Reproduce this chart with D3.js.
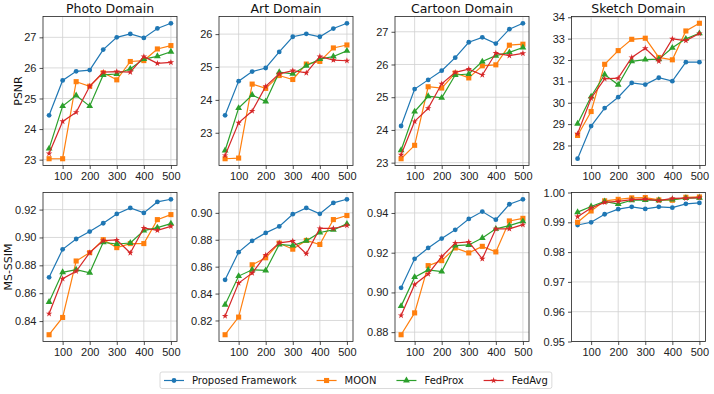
<!DOCTYPE html>
<html>
<head>
<meta charset="utf-8">
<script src="https://cdn.jsdelivr.net/npm/d3@7"></script>
<style>
  body { margin: 0; background: #fff; }
  svg { display: block; font-family: "DejaVu Sans", sans-serif; }
  .grid line { stroke: #d0d0d0; stroke-width: 0.8; }
  .axis path, .axis line { stroke: #222; stroke-width: 0.8; }
  .axis text { fill: #222; font-size: 11px; }
</style>
</head>
<body>
<div id="chart"></div>
<script>
// x values: communication rounds
const rounds = [50, 100, 150, 200, 250, 300, 350, 400, 450, 500];
const methods = ['Proposed Framework', 'MOON', 'FedProx', 'FedAvg'];
const colors = ['#1f77b4', '#ff7f0e', '#2ca02c', '#d62728'];
const xTicks = [100, 200, 300, 400, 500];

// series order follows `methods`
const photoPSNR = [
    [24.45, 25.59, 25.89, 25.93, 26.60, 27.00, 27.11, 26.98, 27.29, 27.46],
    [23.03, 23.03, 25.55, 25.40, 25.84, 25.61, 26.21, 26.24, 26.62, 26.73],
    [23.36, 24.75, 25.10, 24.75, 25.77, 25.80, 25.97, 26.29, 26.38, 26.53],
    [23.20, 24.25, 24.55, 25.40, 25.86, 25.88, 25.86, 26.37, 26.15, 26.18]
];
const artPSNR = [
    [23.53, 24.57, 24.86, 24.97, 25.46, 25.92, 26.01, 25.92, 26.17, 26.33],
    [22.21, 22.23, 24.48, 24.35, 24.74, 24.62, 25.09, 25.17, 25.58, 25.67],
    [22.46, 23.75, 24.15, 23.95, 24.84, 24.79, 25.04, 25.24, 25.32, 25.49],
    [22.31, 23.30, 23.66, 24.41, 24.79, 24.89, 24.82, 25.32, 25.21, 25.19]
];
const cartoonPSNR = [
    [24.12, 25.25, 25.53, 25.81, 26.21, 26.68, 26.83, 26.64, 27.08, 27.26],
    [23.12, 23.53, 25.32, 25.28, 25.74, 25.59, 25.96, 25.99, 26.59, 26.62],
    [23.38, 24.56, 25.03, 24.98, 25.68, 25.71, 26.09, 26.27, 26.37, 26.52],
    [23.24, 24.26, 24.66, 25.41, 25.76, 25.86, 25.68, 26.35, 26.27, 26.34]
];
const sketchPSNR = [
    [27.38, 28.91, 29.75, 30.26, 30.93, 30.85, 31.17, 31.01, 31.90, 31.90],
    [28.47, 29.59, 31.80, 32.44, 32.97, 33.02, 32.12, 32.01, 33.36, 33.72],
    [29.02, 30.29, 31.32, 30.84, 31.94, 32.02, 32.04, 32.57, 32.99, 33.25],
    [28.55, 30.21, 31.12, 31.15, 32.12, 32.55, 31.94, 32.99, 32.91, 33.24]
];
const photoSSIM = [
    [0.8714, 0.8915, 0.8989, 0.9042, 0.9102, 0.9169, 0.9212, 0.9176, 0.9255, 0.9274],
    [0.8302, 0.8426, 0.8831, 0.8891, 0.8984, 0.8927, 0.8956, 0.8956, 0.9128, 0.9164],
    [0.8537, 0.8750, 0.8769, 0.8747, 0.8965, 0.8953, 0.8960, 0.9049, 0.9071, 0.9099],
    [0.8453, 0.8704, 0.8757, 0.8891, 0.8977, 0.8982, 0.8889, 0.9068, 0.9051, 0.9080]
];
const artSSIM = [
    [0.8502, 0.8708, 0.8792, 0.8851, 0.8899, 0.8990, 0.9037, 0.8993, 0.9074, 0.9101],
    [0.8094, 0.8225, 0.8614, 0.8666, 0.8775, 0.8730, 0.8795, 0.8765, 0.8950, 0.8980],
    [0.8317, 0.8530, 0.8577, 0.8572, 0.8765, 0.8757, 0.8792, 0.8854, 0.8874, 0.8918],
    [0.8233, 0.8478, 0.8552, 0.8686, 0.8777, 0.8790, 0.8696, 0.8884, 0.8884, 0.8906]
];
const cartoonSSIM = [
    [0.9023, 0.9169, 0.9224, 0.9271, 0.9315, 0.9370, 0.9407, 0.9366, 0.9444, 0.9469],
    [0.8787, 0.8897, 0.9135, 0.9160, 0.9224, 0.9199, 0.9232, 0.9204, 0.9360, 0.9373],
    [0.8931, 0.9077, 0.9113, 0.9105, 0.9236, 0.9239, 0.9274, 0.9320, 0.9336, 0.9358],
    [0.8884, 0.9040, 0.9093, 0.9180, 0.9249, 0.9254, 0.9169, 0.9320, 0.9320, 0.9341]
];
const sketchSSIM = [
    [0.9891, 0.9900, 0.9927, 0.9944, 0.9952, 0.9945, 0.9952, 0.9949, 0.9962, 0.9965],
    [0.9900, 0.9938, 0.9972, 0.9977, 0.9982, 0.9983, 0.9975, 0.9974, 0.9984, 0.9985],
    [0.9934, 0.9953, 0.9970, 0.9961, 0.9974, 0.9975, 0.9974, 0.9976, 0.9981, 0.9982],
    [0.9919, 0.9948, 0.9967, 0.9970, 0.9976, 0.9978, 0.9973, 0.9980, 0.9981, 0.9983]
];

const psnrTicks = {
    photo: [23, 24, 25, 26, 27],
    art: [23, 24, 25, 26],
    cartoon: [23, 24, 25, 26, 27],
    sketch: [28, 29, 30, 31, 32, 33, 34]
};
const ssimTicks = {
    photo: [0.84, 0.86, 0.88, 0.90, 0.92],
    art: [0.82, 0.84, 0.86, 0.88, 0.90],
    cartoon: [0.88, 0.90, 0.92, 0.94],
    sketch: [0.95, 0.96, 0.97, 0.98, 0.99, 1.00]
};

let width = 714;
let height = 394;
let colLeft = [43, 219, 395, 571.5];
let panelWidth = 134;
let rowTop = [16.5, 192.5];
let panelHeight = 149;

let panels = [
    { row: 0, col: 0, title: 'Photo Domain', ylabel: 'PSNR', series: photoPSNR, ticks: psnrTicks.photo, fmt: d3.format('d') },
    { row: 0, col: 1, title: 'Art Domain', series: artPSNR, ticks: psnrTicks.art, fmt: d3.format('d') },
    { row: 0, col: 2, title: 'Cartoon Domain', series: cartoonPSNR, ticks: psnrTicks.cartoon, fmt: d3.format('d') },
    { row: 0, col: 3, title: 'Sketch Domain', series: sketchPSNR, ticks: psnrTicks.sketch, fmt: d3.format('d') },
    { row: 1, col: 0, ylabel: 'MS-SSIM', series: photoSSIM, ticks: ssimTicks.photo, fmt: d3.format('.2f') },
    { row: 1, col: 1, series: artSSIM, ticks: ssimTicks.art, fmt: d3.format('.2f') },
    { row: 1, col: 2, series: cartoonSSIM, ticks: ssimTicks.cartoon, fmt: d3.format('.2f') },
    { row: 1, col: 3, series: sketchSSIM, ticks: ssimTicks.sketch, fmt: d3.format('.2f'), domain: [0.95, 1.0] }
];

const symbols = [
    d3.symbol().type(d3.symbolCircle).size(18),
    d3.symbol().type(d3.symbolSquare).size(26),
    d3.symbol().type(d3.symbolTriangle).size(20),
    d3.symbol().type(d3.symbolStar).size(13)
];

const svg = d3.select('#chart')
    .append('svg')
    .attr('width', width)
    .attr('height', height);

svg.append('rect').attr('width', width).attr('height', height).attr('fill', '#fff');

// matplotlib style: data extent padded by 5%
function padded(extent) {
    let pad = (extent[1] - extent[0]) * 0.05;
    return [extent[0] - pad, extent[1] + pad];
}

const xDomain = padded(d3.extent(rounds));

panels.forEach(p => {
    let left = colLeft[p.col];
    let top = rowTop[p.row];
    let g = svg.append('g').attr('transform', `translate(${left},${top})`);

    let x = d3.scaleLinear().domain(xDomain).range([0, panelWidth]);
    let yDomain = p.domain || padded(d3.extent(p.series.flat()));
    let y = d3.scaleLinear().domain(yDomain).range([panelHeight, 0]);

    // gridlines
    g.append('g').attr('class', 'grid')
        .selectAll('line')
        .data(xTicks)
        .join('line')
        .attr('x1', d => x(d)).attr('x2', d => x(d))
        .attr('y1', 0).attr('y2', panelHeight);
    g.append('g').attr('class', 'grid')
        .selectAll('line')
        .data(p.ticks)
        .join('line')
        .attr('x1', 0).attr('x2', panelWidth)
        .attr('y1', d => y(d)).attr('y2', d => y(d));

    // series
    p.series.forEach((vals, i) => {
        let pts = vals.map((v, k) => [rounds[k], v]);
        g.append('path')
            .datum(pts)
            .attr('fill', 'none')
            .attr('stroke', colors[i])
            .attr('stroke-width', 1.2)
            .attr('d', d3.line().x(d => x(d[0])).y(d => y(d[1])));
        g.append('g')
            .selectAll('path')
            .data(pts)
            .join('path')
            .attr('transform', d => `translate(${x(d[0])},${y(d[1])})`)
            .attr('d', symbols[i])
            .attr('fill', colors[i]);
    });

    // axes
    g.append('g').attr('class', 'axis')
        .attr('transform', `translate(0,${panelHeight})`)
        .call(d3.axisBottom(x).tickValues(xTicks).tickSize(3.5).tickPadding(3).tickSizeOuter(0));
    g.append('g').attr('class', 'axis')
        .call(d3.axisLeft(y).tickValues(p.ticks).tickFormat(p.fmt).tickSize(3.5).tickPadding(3).tickSizeOuter(0));

    g.selectAll('.axis .domain').remove();
    g.append('rect')
        .attr('width', panelWidth).attr('height', panelHeight)
        .attr('fill', 'none').attr('stroke', '#222').attr('stroke-width', 0.8);

    if (p.title) {
        g.append('text')
            .attr('x', panelWidth / 2).attr('y', -3.5)
            .attr('text-anchor', 'middle')
            .attr('font-size', 12.5)
            .attr('fill', '#111')
            .text(p.title);
    }
    if (p.ylabel) {
        let lx = p.row === 0 ? -21 : -31;
        g.append('text')
            .attr('transform', `translate(${lx},${panelHeight / 2}) rotate(-90)`)
            .attr('text-anchor', 'middle')
            .attr('font-size', 11)
            .attr('fill', '#111')
            .text(p.ylabel);
    }
});

// legend
const legend = svg.append('g').attr('transform', 'translate(160,372)');
const legendBox = legend.append('rect')
    .attr('height', 16.5)
    .attr('rx', 2)
    .attr('fill', '#fff')
    .attr('stroke', '#d0d0d0')
    .attr('stroke-width', 0.8);

let cursor = 4;
methods.forEach((name, i) => {
    let item = legend.append('g').attr('transform', `translate(${cursor},8.5)`);
    item.append('line')
        .attr('x1', 0).attr('x2', 20)
        .attr('stroke', colors[i]).attr('stroke-width', 1.2);
    item.append('path')
        .attr('transform', 'translate(10,0)')
        .attr('d', symbols[i])
        .attr('fill', colors[i]);
    let t = item.append('text')
        .attr('x', 28).attr('y', 3.6)
        .attr('font-size', 10)
        .attr('fill', '#111')
        .text(name);
    cursor += 28 + t.node().getComputedTextLength() + 20;
});
legendBox.attr('width', cursor - 16);
</script>
</body>
</html>
